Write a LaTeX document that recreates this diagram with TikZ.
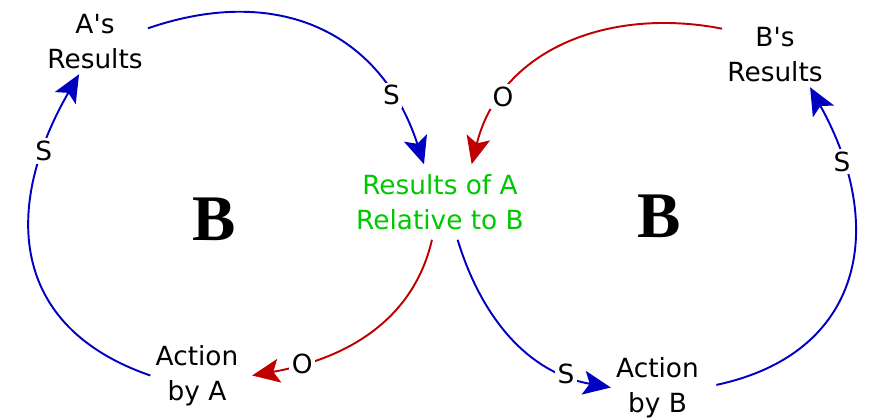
\documentclass[tikz,border=0pt]{standalone}
\usepackage{fontspec}
\usepackage{tikz}
\usetikzlibrary{arrows.meta}
\newfontfamily\cldsans{DejaVu Sans}
\newfontfamily\cldserif{Liberation Serif}
\definecolor{cldSame}{RGB}{0,0,192}
\definecolor{cldOpp}{RGB}{192,0,0}
\definecolor{cldGoal}{RGB}{0,200,0}

\begin{document}
\begin{tikzpicture}[
    x=1cm, y=1cm, >={Stealth[length=5.5mm,width=4.8mm,inset=1.2mm]},
    var/.style={align=center, inner sep=0.1cm, font=\fontsize{15}{20}\selectfont\cldsans},
    lab/.style={font=\fontsize{15}{18}\selectfont\cldsans, fill=white, inner sep=1.5pt},
    loopname/.style={font=\fontsize{37}{42}\selectfont\cldserif\bfseries},
    same/.style={->, draw=cldSame, line width=1.1pt},
    opp/.style={->, draw=cldOpp, line width=1.1pt},
  ]
  \useasboundingbox (0,0) rectangle (17.48,8.36);
  \node[var] (ares) at (1.90,7.53) {A\textquotesingle s\\Results};
  \node[var] (bres) at (15.50,7.27) {B\textquotesingle s\\Results};
  \node[var, text=cldGoal, outer sep=0.1cm] (rel) at (8.80,4.32) {Results of A\\Relative to B};
  \node[var] (acta) at (3.94,0.85) {Action\\by A};
  \node[var] (actb) at (13.15,0.61) {Action\\by B};
  \node[loopname] (loopa) at (4.28,3.98) {B};
  \node[loopname] (loopb) at (13.18,4.04) {B};
  \draw[same] (ares.14) to[out=19, in=108, looseness=1.15] node[lab, pos=0.8] {S} (rel.113);
  \draw[opp] (bres.154) to[out=169, in=76, looseness=1.05] node[lab, pos=0.77] {O} (rel.50);
  \draw[same] (rel.295) to[out=-73, in=170] node[lab, pos=0.8] {S} (actb.west);
  \draw[same, shorten <=0.25cm] (actb.east) to[out=12, in=-61, looseness=1.3] node[lab, pos=0.82] {S} (bres.317);
  \draw[opp] (rel.258) to[out=257, in=10] node[lab, pos=0.8] {O} ([xshift=0.17cm]acta.east);
  \draw[same] (acta.west) to[out=161, in=240, looseness=1.25] node[lab, pos=0.8] {S} (ares.244);
\end{tikzpicture}
\end{document}
